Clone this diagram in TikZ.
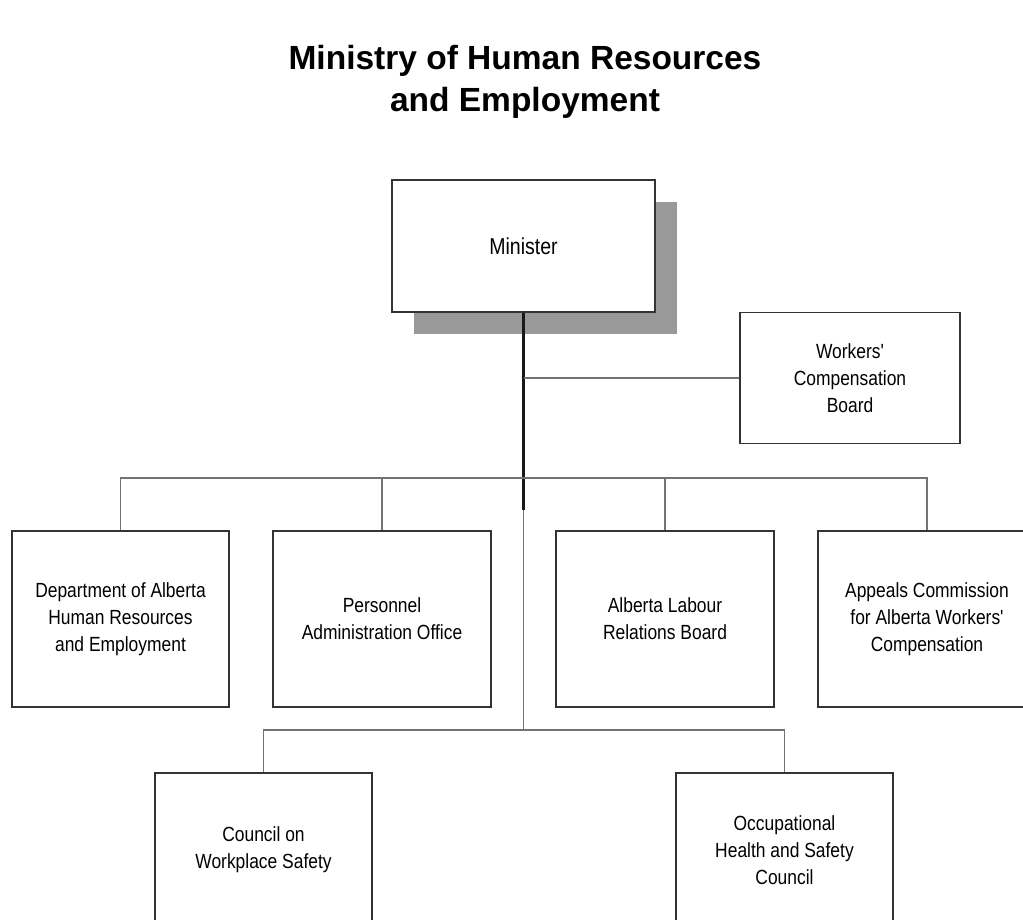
\documentclass[tikz,border=0pt]{standalone}
\usepackage{fontspec}
\setmainfont{Liberation Sans}
\newfontfamily\boxfont[FakeStretch=0.85]{Liberation Sans}
\begin{document}
\begin{tikzpicture}[x=1pt,y=-1pt,
  box/.style={draw=black!80, line width=1.6pt, fill=white, align=center, inner sep=0pt,
              font=\boxfont\fontsize{20.5}{27}\selectfont},
  link/.style={draw=black!55, line width=1.8pt},
  mainlink/.style={draw=black!90, line width=2.2pt}]
\useasboundingbox (0,0) rectangle (1023,920);
\clip (0,0) rectangle (1023,920);
\fill[white] (0,0) rectangle (1023,920);
\node[font=\bfseries\fontsize{33.5}{42}\selectfont, align=center] (title) at (525,82)
  {Ministry of Human Resources\\and Employment};
\node[fill=black!40, minimum width=263pt, minimum height=132pt, inner sep=0pt] (shadow) at (545.5,268) {};
\node[box, minimum width=263pt, minimum height=132pt, font=\boxfont\fontsize{23}{27}\selectfont] (minister) at (523.5,246) {Minister};
\node[box, minimum width=220pt, minimum height=131pt] (wcb) at (850,378) {Workers'\\Compensation\\Board};
\node[box, minimum width=217pt, minimum height=176pt] (b1) at (120.5,619) {Department of Alberta\\Human Resources\\and Employment};
\node[box, minimum width=218pt, minimum height=176pt] (b2) at (382,619) {Personnel\\Administration Office};
\node[box, minimum width=218pt, minimum height=176pt] (b3) at (665,619) {Alberta Labour\\Relations Board};
\node[box, minimum width=218pt, minimum height=176pt] (b4) at (927,619) {Appeals Commission\\for Alberta Workers'\\Compensation};
\node[box, minimum width=217pt, minimum height=154pt] (c1) at (263.5,850) {Council on\\Workplace Safety};
\node[box, minimum width=217pt, minimum height=154pt] (c2) at (784.5,850) {Occupational\\Health and Safety\\Council};
\coordinate (j1) at (523.5,378);
\coordinate (j2) at (523.5,478);
\coordinate (jm) at (523.5,510);
\coordinate (j3) at (523.5,730);
\draw[mainlink] (minister.south) -- (j1) -- (j2) -- (jm);
\draw[link] (jm) -- (j3);
\draw[link] (j1) -- (wcb.west);
\draw[link] (b1.north) |- (j2) -| (b4.north);
\draw[link] (b2.north) -- (b2.north |- j2);
\draw[link] (b3.north) -- (b3.north |- j2);
\draw[link] (c1.north) |- (j3) -| (c2.north);
\end{tikzpicture}
\end{document}
